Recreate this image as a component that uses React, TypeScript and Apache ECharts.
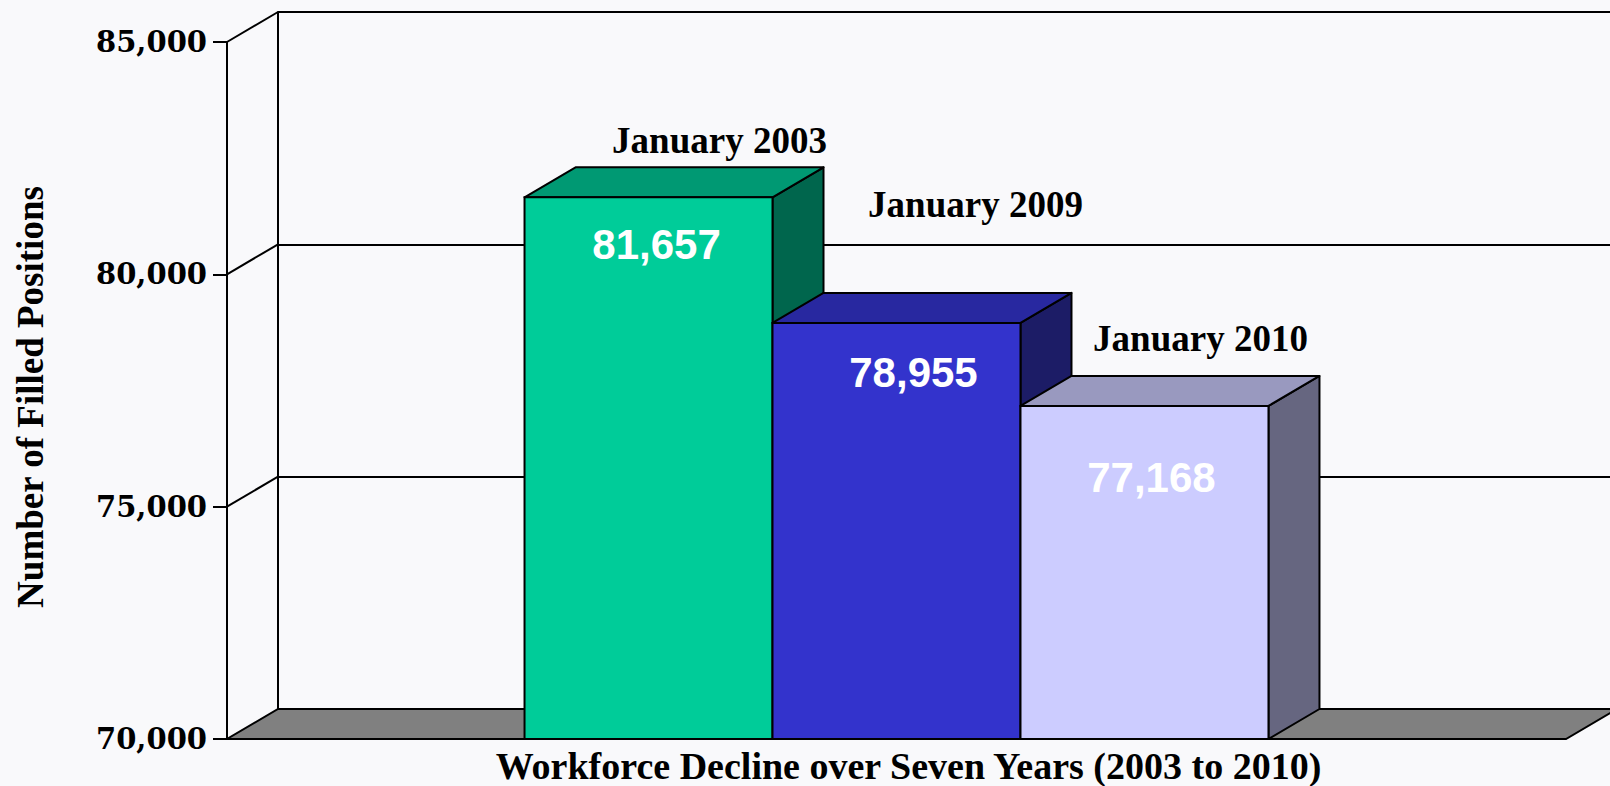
import { useEffect, useRef } from 'react';
import * as echarts from 'echarts';

// ---- data ----
const categories = ['Workforce Decline over Seven Years (2003 to 2010)'];
const seriesNames = ['January 2003', 'January 2009', 'January 2010'];
const values = [81657, 78955, 77168];
const yTicks = [70000, 75000, 80000, 85000];
const yMin = 70000;
const yMax = 85000;
const yInterval = 5000;
const yAxisTitle = 'Number of Filled Positions';

// ---- styles ----
const frontColors = ['#00cc99', '#3333cc', '#ccccff'];
const topColors = ['#009973', '#2828a0', '#9999bf'];
const sideColors = ['#00664d', '#1c1c66', '#666680'];
const DEPTH_X = 51;
const DEPTH_Y = -30;
const BAR_SPAN = 0.5556;
const SERIF = 'Liberation Serif, Times New Roman, serif';
const TICK_FONT = 'DejaVu Serif, Liberation Serif, serif';
const SANS = 'Liberation Sans, Arial, sans-serif';
// label offsets (px) relative to the bar's front top centre
const nameOffsets = [[71, -57], [79, -118], [56, -67]];
const valueOffsets = [[8, 47], [17, 50], [7, 72]];

const fmt = (v: number) => v.toLocaleString('en-US');

export default function App() {
  const ref = useRef<HTMLDivElement>(null);
  useEffect(() => {
    if (!ref.current) return;
    const chart = echarts.init(ref.current, null, { renderer: 'svg' });
    const option: any = {
      animation: false,
      backgroundColor: '#f9f9fb',
      grid: [
        { left: 227, right: 44, top: 42, bottom: 47 },
        { left: 227 + DEPTH_X, width: 1400, top: 42 + DEPTH_Y, height: 697 },
      ],
      xAxis: [
        {
          type: 'category',
          gridIndex: 0,
          data: categories,
          axisLine: { show: false },
          axisTick: { show: false },
          axisLabel: {
            margin: 12,
            padding: [0, 0, 0, 24],
            lineHeight: 30,
            fontFamily: SERIF,
            fontWeight: 'bold',
            fontSize: 38,
            color: '#000',
          },
        },
        {
          type: 'category',
          gridIndex: 1,
          data: categories,
          show: false,
        },
      ],
      yAxis: [
        {
          type: 'value',
          gridIndex: 0,
          min: yMin,
          max: yMax,
          interval: yInterval,
          name: yAxisTitle,
          nameLocation: 'middle',
          nameGap: 178,
          nameRotate: 90,
          nameTextStyle: {
            fontFamily: SERIF,
            fontWeight: 'bold',
            fontSize: 37,
            color: '#000',
            padding: [0, 13, 0, 0],
          },
          axisLine: { show: true, lineStyle: { color: '#000', width: 2 } },
          axisTick: { show: true, inside: false, length: 14, lineStyle: { color: '#000', width: 2 } },
          axisLabel: {
            margin: 20,
            fontFamily: TICK_FONT,
            fontWeight: 'bold',
            fontSize: 29,
            color: '#000',
            formatter: (v: number) => fmt(v),
          },
          splitLine: { show: false },
        },
        {
          type: 'value',
          gridIndex: 1,
          min: yMin,
          max: yMax,
          interval: yInterval,
          axisLine: { show: true, lineStyle: { color: '#000', width: 2 } },
          axisTick: { show: false },
          axisLabel: { show: false },
          splitLine: { show: true, lineStyle: { color: '#000', width: 2 } },
        },
      ],
      series: [
        {
          // side-wall diagonals and floor
          type: 'custom',
          xAxisIndex: 0,
          yAxisIndex: 0,
          z: 1,
          silent: true,
          data: yTicks.map((v) => [0, v]),
          encode: { x: 0, y: 1 },
          renderItem: (params: any, api: any) => {
            const v = api.value(1);
            const cs = params.coordSys;
            const y = api.coord([0, v])[1];
            const x0 = cs.x;
            const x1 = cs.x + cs.width;
            const children: any[] = [];
            if (v === yMin) {
              children.push({
                type: 'polygon',
                shape: {
                  points: [
                    [x0, y],
                    [x1, y],
                    [x1 + DEPTH_X, y + DEPTH_Y],
                    [x0 + DEPTH_X, y + DEPTH_Y],
                  ],
                },
                style: { fill: '#808080', stroke: '#000', lineWidth: 2 },
              });
            } else {
              children.push({
                type: 'line',
                shape: { x1: x0, y1: y, x2: x0 + DEPTH_X, y2: y + DEPTH_Y },
                style: { stroke: '#000', lineWidth: 2 },
              });
            }
            return { type: 'group', children };
          },
        },
        {
          type: 'custom',
          xAxisIndex: 0,
          yAxisIndex: 0,
          z: 3,
          data: values.map((v, i) => [0, v, i]),
          encode: { x: 0, y: 1 },
          renderItem: (params: any, api: any) => {
            const v = api.value(1);
            const i = api.value(2);
            const top = api.coord([0, v]);
            const base = api.coord([0, yMin]);
            const band = api.size([1, 0])[0];
            const barW = (band * BAR_SPAN) / 3;
            const x0 = top[0] - (band * BAR_SPAN) / 2 + i * barW;
            const x1 = x0 + barW;
            const ty = top[1];
            const by = base[1];
            const cx = (x0 + x1) / 2;
            return {
              type: 'group',
              children: [
                {
                  type: 'polygon',
                  shape: {
                    points: [
                      [x1, ty],
                      [x1 + DEPTH_X, ty + DEPTH_Y],
                      [x1 + DEPTH_X, by + DEPTH_Y],
                      [x1, by],
                    ],
                  },
                  style: { fill: sideColors[i], stroke: '#000', lineWidth: 2, lineJoin: 'round' },
                },
                {
                  type: 'polygon',
                  shape: {
                    points: [
                      [x0, ty],
                      [x0 + DEPTH_X, ty + DEPTH_Y],
                      [x1 + DEPTH_X, ty + DEPTH_Y],
                      [x1, ty],
                    ],
                  },
                  style: { fill: topColors[i], stroke: '#000', lineWidth: 2, lineJoin: 'round' },
                },
                {
                  type: 'rect',
                  shape: { x: x0, y: ty, width: barW, height: by - ty },
                  style: { fill: frontColors[i], stroke: '#000', lineWidth: 2 },
                },
                {
                  type: 'text',
                  style: {
                    text: fmt(v),
                    x: cx + valueOffsets[i][0],
                    y: ty + valueOffsets[i][1],
                    fill: '#ffffff',
                    fontFamily: SANS,
                    fontWeight: 'bold',
                    fontSize: 42,
                    align: 'center',
                    verticalAlign: 'middle',
                  },
                },
                {
                  type: 'text',
                  style: {
                    text: seriesNames[i],
                    x: cx + nameOffsets[i][0],
                    y: ty + nameOffsets[i][1],
                    fill: '#000',
                    fontFamily: SERIF,
                    fontWeight: 'bold',
                    fontSize: 37,
                    align: 'center',
                    verticalAlign: 'middle',
                  },
                },
              ],
            };
          },
        },
      ],
    };
    chart.setOption(option);
    return () => chart.dispose();
  }, []);
  return (
    <div
      ref={ref}
      style={{ position: 'fixed', left: 0, top: 0, width: 1610, height: 786 }}
    />
  );
}
